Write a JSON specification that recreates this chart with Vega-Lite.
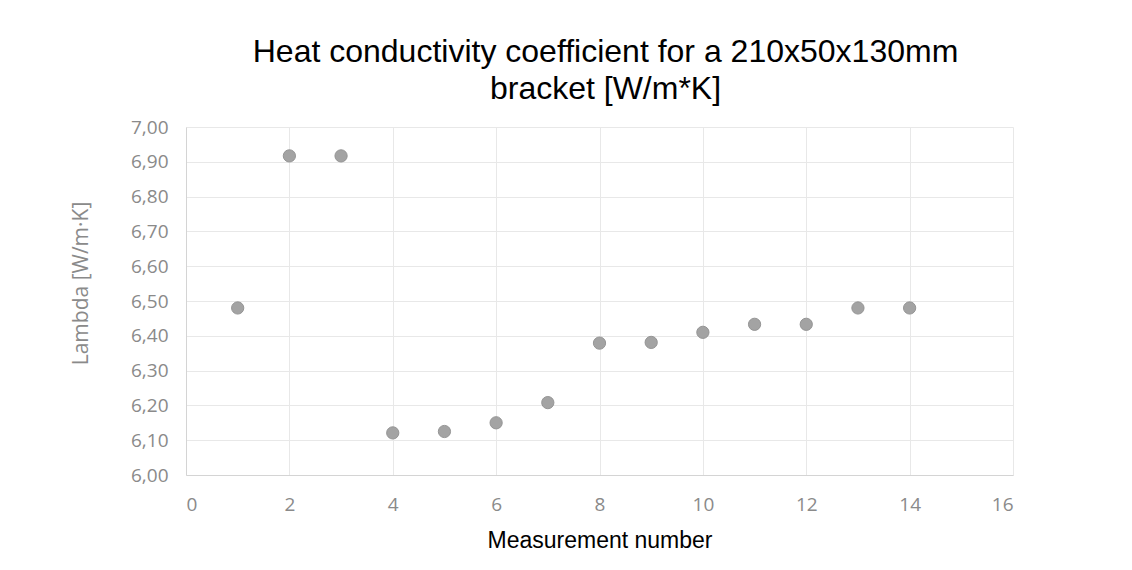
{
  "$schema": "https://vega.github.io/schema/vega-lite/v6.json",
  "autosize": {"type": "none"},
  "width": 827,
  "height": 348,
  "padding": {"left": 186, "top": 127, "right": 119, "bottom": 95},
  "background": "white",
  "title": {
    "text": ["Heat conductivity coefficient for a 210x50x130mm", "bracket [W/m*K]"],
    "font": "Liberation Sans",
    "fontSize": 32,
    "fontWeight": "normal",
    "color": "#000000",
    "anchor": "middle",
    "dx": 6,
    "offset": 12,
    "lineHeight": 37
  },
  "data": {
    "values": [
      {"n": 1, "lambda": 6.48},
      {"n": 2, "lambda": 6.917},
      {"n": 3, "lambda": 6.917},
      {"n": 4, "lambda": 6.121},
      {"n": 5, "lambda": 6.125},
      {"n": 6, "lambda": 6.15},
      {"n": 7, "lambda": 6.208},
      {"n": 8, "lambda": 6.379},
      {"n": 9, "lambda": 6.381},
      {"n": 10, "lambda": 6.41},
      {"n": 11, "lambda": 6.433},
      {"n": 12, "lambda": 6.433},
      {"n": 13, "lambda": 6.48},
      {"n": 14, "lambda": 6.48}
    ]
  },
  "mark": {"type": "point", "filled": true, "size": 150, "color": "#a3a3a3", "opacity": 1, "stroke": "#959595", "strokeWidth": 1},
  "encoding": {
    "x": {
      "field": "n",
      "type": "quantitative",
      "scale": {"domain": [0, 16], "nice": false},
      "axis": {
        "values": [0, 2, 4, 6, 8, 10, 12, 14, 16],
        "title": "Measurement number",
        "titleFont": "Liberation Sans",
        "titleFontSize": 23,
        "titleFontWeight": "normal",
        "titleColor": "#000000",
        "titlePadding": 15,
        "labelFont": "Open Sans",
        "labelFontSize": 19,
        "labelColor": "#8a8a8a",
        "labelPadding": 20,
        "ticks": false,
        "domainColor": "#d4d4d4",
        "gridColor": "#e8e8e8",
        "grid": true
      }
    },
    "y": {
      "field": "lambda",
      "type": "quantitative",
      "scale": {"domain": [6.0, 7.0], "nice": false, "zero": false},
      "axis": {
        "values": [6.0, 6.1, 6.2, 6.3, 6.4, 6.5, 6.6, 6.7, 6.8, 6.9, 7.0],
        "labelExpr": "replace(format(datum.value, '.2f'), '.', ',')",
        "title": "Lambda [W/m·K]",
        "titleFont": "Open Sans",
        "titleFontSize": 21,
        "titleFontWeight": "normal",
        "titleColor": "#8a8a8a",
        "titleX": -105,
        "titleY": 156,
        "titleBaseline": "middle",
        "titleAngle": 270,
        "labelFont": "Open Sans",
        "labelFontSize": 19,
        "labelColor": "#8a8a8a",
        "labelPadding": 18,
        "ticks": false,
        "domainColor": "#d4d4d4",
        "gridColor": "#e8e8e8",
        "grid": true
      }
    }
  },
  "config": {"view": {"stroke": null}}
}
